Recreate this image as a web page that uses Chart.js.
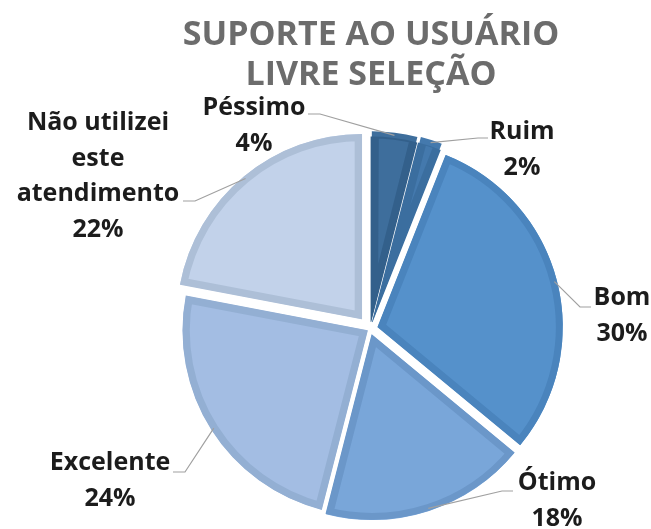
<!DOCTYPE html>
<html lang="pt-BR">
<head>
<meta charset="utf-8">
<title>Suporte ao usuário - livre seleção</title>
<script src="https://cdn.jsdelivr.net/npm/chart.js@4.4.1/dist/chart.umd.min.js"></script>
<style>
  html, body { margin: 0; padding: 0; background: #fff; }
  #wrap { position: relative; width: 651px; height: 529px; }
</style>
</head>
<body>
<div id="wrap"><canvas id="pieChart"></canvas></div>
<script>
'use strict';

// dados
const categorias = ['Péssimo', 'Ruim', 'Bom', 'Ótimo', 'Excelente', 'Não utilizei este atendimento'];
const percentuais = [4, 2, 30, 18, 24, 22];
const linhasRotulo = [['Péssimo'], ['Ruim'], ['Bom'], ['Ótimo'], ['Excelente'], ['Não utilizei', 'este', 'atendimento']];
const tituloLinhas = ['SUPORTE AO USUÁRIO', 'LIVRE SELEÇÃO'];

// estilo
const corFatia = ['#3e6e9c', '#4479ad', '#5591cb', '#79a6d9', '#a3bde3', '#c2d2ea'];
const corBorda = ['#33608b', '#3b6e9f', '#4a84bd', '#6b97c9', '#93afd3', '#adbfd7'];
const deslocFatia = [30, 30, 32, 24, 12, 52];

// posição dos rótulos: centro x, 1ª linha de base, ponta da linha guia, joelho
const posRotulo = [
  { x: 254, y: 115, ponta: [308, 114], joelho: [320, 114] },
  { x: 522, y: 139, ponta: [488, 138], joelho: [478, 138] },
  { x: 622, y: 305, ponta: [591, 307], joelho: [580, 307] },
  { x: 557, y: 490, ponta: [513, 491], joelho: [502, 491] },
  { x: 110, y: 470, ponta: [173, 472], joelho: [185, 472] },
  { x: 98, y: 130, ponta: [183, 201], joelho: [195, 201] }
];
const alturaLinha = 35.5;

const rotulosPlugin = {
  id: 'rotulosPizza',
  afterDraw(chart) {
    const ctx = chart.ctx;
    const arcs = chart.getDatasetMeta(0).data;
    ctx.save();

    // título
    ctx.fillStyle = '#6c6c6c';
    ctx.font = 'bold 34px "Open Sans"';
    ctx.textAlign = 'center';
    ctx.textBaseline = 'alphabetic';
    tituloLinhas.forEach((t, i) => ctx.fillText(t, 371, 45 + i * 40));

    // linhas guia
    ctx.strokeStyle = '#a0a0a0';
    ctx.lineWidth = 1.2;
    arcs.forEach((arc, i) => {
      const p = arc.getProps(['x', 'y', 'startAngle', 'endAngle', 'outerRadius']);
      const meio = (p.startAngle + p.endAngle) / 2;
      const desl = deslocFatia[i] / 4;
      const fix = 1 - Math.sin(Math.min(Math.PI, p.endAngle - p.startAngle));
      const r = p.outerRadius + desl + (desl * fix) - 3;
      const px = p.x + Math.cos(meio) * r;
      const py = p.y + Math.sin(meio) * r;
      const pos = posRotulo[i];
      ctx.beginPath();
      ctx.moveTo(pos.ponta[0], pos.ponta[1]);
      ctx.lineTo(pos.joelho[0], pos.joelho[1]);
      ctx.lineTo(px, py);
      ctx.stroke();
    });

    // textos
    ctx.fillStyle = '#1c1c1c';
    ctx.font = 'bold 25px "Open Sans"';
    arcs.forEach((arc, i) => {
      const pos = posRotulo[i];
      const linhas = linhasRotulo[i].concat([percentuais[i] + '%']);
      linhas.forEach((l, k) => ctx.fillText(l, pos.x, pos.y + k * alturaLinha));
    });
    ctx.restore();
  }
};

new Chart(document.getElementById('pieChart'), {
  type: 'pie',
  data: {
    labels: categorias,
    datasets: [{
      data: percentuais,
      backgroundColor: corFatia,
      borderColor: corBorda,
      borderWidth: 7,
      borderAlign: 'inner',
      borderJoinStyle: 'miter',
      offset: deslocFatia,
      radius: 185,
      clip: false
    }]
  },
  options: {
    responsive: true,
    maintainAspectRatio: false,
    animation: false,
    events: [],
    layout: { padding: { left: 89, right: 0, top: 129, bottom: 0 } },
    plugins: { legend: { display: false }, tooltip: { enabled: false } }
  },
  plugins: [rotulosPlugin]
});
</script>
</body>
</html>
